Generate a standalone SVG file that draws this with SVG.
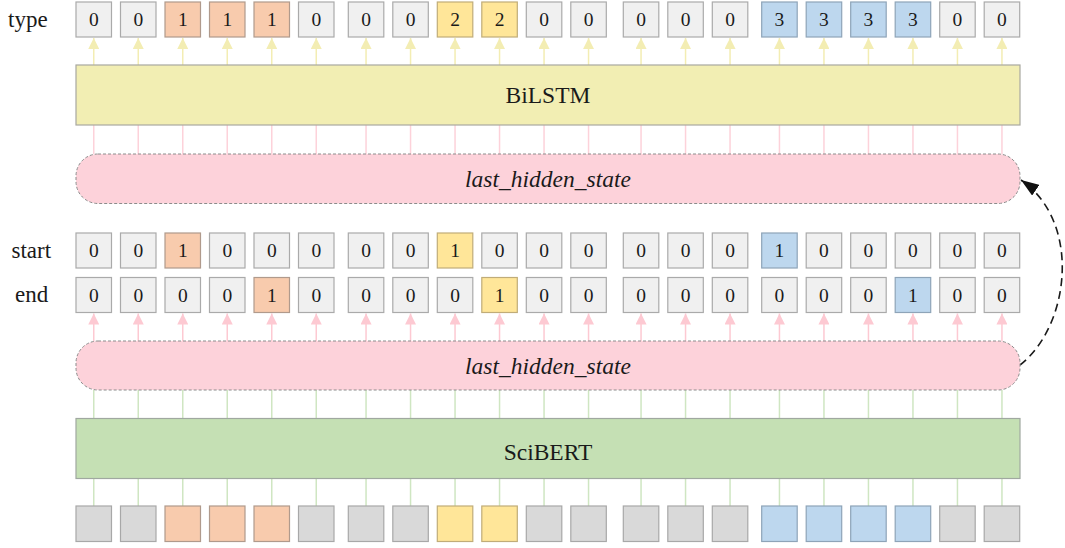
<svg xmlns="http://www.w3.org/2000/svg" width="1065" height="548" viewBox="0 0 1065 548">
<style>
.bx{stroke-width:1.2}
.g{fill:#f0f0f0;stroke:#aaaaaa}
.o{fill:#f8cbad;stroke:#b09a8c}
.y{fill:#ffe699;stroke:#c0ac78}
.b{fill:#bdd7ee;stroke:#8ea4b8}
.d{fill:#d9d9d9;stroke:#a8a8a8}
text{font-family:'Liberation Serif','DejaVu Serif','Noto Serif',serif;fill:#1a1a1a}
.num{font-size:19.5px;text-anchor:middle}
.lbl{font-size:23px}
.ttl{font-size:23.5px;text-anchor:middle}
.it{font-style:italic}
.pill{fill:#fdd2da;stroke:#8c8c8c;stroke-dasharray:3 2;stroke-width:1}
.ya{stroke:#f3edb3;stroke-width:1.5;marker-end:url(#ay)}
.pa{stroke:#fdc9d2;stroke-width:1.5;marker-end:url(#ap)}
.pl{stroke:#fdd2da;stroke-width:1.5}
.gl{stroke:#cfe6c2;stroke-width:1.5}
</style>
<defs>
<marker id="ay" viewBox="0 0 11 11" refX="11" refY="5.5" markerWidth="11" markerHeight="11" markerUnits="userSpaceOnUse" orient="auto"><path d="M0,0 L11,5.5 L0,11 z" fill="#f3edb3"/></marker>
<marker id="ap" viewBox="0 0 11 11" refX="11" refY="5.5" markerWidth="11" markerHeight="11" markerUnits="userSpaceOnUse" orient="auto"><path d="M0,0 L11,5.5 L0,11 z" fill="#fdc9d2"/></marker>
<marker id="ab" viewBox="0 0 18 13" refX="18" refY="6.5" markerWidth="18" markerHeight="13" markerUnits="userSpaceOnUse" orient="auto"><path d="M0,0 L18,6.5 L0,13 z" fill="#111"/></marker>
</defs>
<rect width="1065" height="548" fill="#ffffff"/>

<g id="connectors" fill="none">
<g id="yellow-arrows">
<line class="ya" x1="93.75" y1="65" x2="93.75" y2="38"/>
<line class="ya" x1="138.25" y1="65" x2="138.25" y2="38"/>
<line class="ya" x1="182.75" y1="65" x2="182.75" y2="38"/>
<line class="ya" x1="227.25" y1="65" x2="227.25" y2="38"/>
<line class="ya" x1="271.75" y1="65" x2="271.75" y2="38"/>
<line class="ya" x1="316.25" y1="65" x2="316.25" y2="38"/>
<line class="ya" x1="366.05" y1="65" x2="366.05" y2="38"/>
<line class="ya" x1="410.55" y1="65" x2="410.55" y2="38"/>
<line class="ya" x1="455.05" y1="65" x2="455.05" y2="38"/>
<line class="ya" x1="499.55" y1="65" x2="499.55" y2="38"/>
<line class="ya" x1="544.05" y1="65" x2="544.05" y2="38"/>
<line class="ya" x1="588.55" y1="65" x2="588.55" y2="38"/>
<line class="ya" x1="641.05" y1="65" x2="641.05" y2="38"/>
<line class="ya" x1="685.55" y1="65" x2="685.55" y2="38"/>
<line class="ya" x1="730.05" y1="65" x2="730.05" y2="38"/>
<line class="ya" x1="779.45" y1="65" x2="779.45" y2="38"/>
<line class="ya" x1="823.95" y1="65" x2="823.95" y2="38"/>
<line class="ya" x1="868.45" y1="65" x2="868.45" y2="38"/>
<line class="ya" x1="912.95" y1="65" x2="912.95" y2="38"/>
<line class="ya" x1="957.45" y1="65" x2="957.45" y2="38"/>
<line class="ya" x1="1001.95" y1="65" x2="1001.95" y2="38"/>
</g>
<g id="pink-lines">
<line class="pl" x1="93.75" y1="154" x2="93.75" y2="125"/>
<line class="pl" x1="138.25" y1="154" x2="138.25" y2="125"/>
<line class="pl" x1="182.75" y1="154" x2="182.75" y2="125"/>
<line class="pl" x1="227.25" y1="154" x2="227.25" y2="125"/>
<line class="pl" x1="271.75" y1="154" x2="271.75" y2="125"/>
<line class="pl" x1="316.25" y1="154" x2="316.25" y2="125"/>
<line class="pl" x1="366.05" y1="154" x2="366.05" y2="125"/>
<line class="pl" x1="410.55" y1="154" x2="410.55" y2="125"/>
<line class="pl" x1="455.05" y1="154" x2="455.05" y2="125"/>
<line class="pl" x1="499.55" y1="154" x2="499.55" y2="125"/>
<line class="pl" x1="544.05" y1="154" x2="544.05" y2="125"/>
<line class="pl" x1="588.55" y1="154" x2="588.55" y2="125"/>
<line class="pl" x1="641.05" y1="154" x2="641.05" y2="125"/>
<line class="pl" x1="685.55" y1="154" x2="685.55" y2="125"/>
<line class="pl" x1="730.05" y1="154" x2="730.05" y2="125"/>
<line class="pl" x1="779.45" y1="154" x2="779.45" y2="125"/>
<line class="pl" x1="823.95" y1="154" x2="823.95" y2="125"/>
<line class="pl" x1="868.45" y1="154" x2="868.45" y2="125"/>
<line class="pl" x1="912.95" y1="154" x2="912.95" y2="125"/>
<line class="pl" x1="957.45" y1="154" x2="957.45" y2="125"/>
<line class="pl" x1="1001.95" y1="154" x2="1001.95" y2="125"/>
</g>
<g id="pink-arrows">
<line class="pa" x1="93.75" y1="341" x2="93.75" y2="313.5"/>
<line class="pa" x1="138.25" y1="341" x2="138.25" y2="313.5"/>
<line class="pa" x1="182.75" y1="341" x2="182.75" y2="313.5"/>
<line class="pa" x1="227.25" y1="341" x2="227.25" y2="313.5"/>
<line class="pa" x1="271.75" y1="341" x2="271.75" y2="313.5"/>
<line class="pa" x1="316.25" y1="341" x2="316.25" y2="313.5"/>
<line class="pa" x1="366.05" y1="341" x2="366.05" y2="313.5"/>
<line class="pa" x1="410.55" y1="341" x2="410.55" y2="313.5"/>
<line class="pa" x1="455.05" y1="341" x2="455.05" y2="313.5"/>
<line class="pa" x1="499.55" y1="341" x2="499.55" y2="313.5"/>
<line class="pa" x1="544.05" y1="341" x2="544.05" y2="313.5"/>
<line class="pa" x1="588.55" y1="341" x2="588.55" y2="313.5"/>
<line class="pa" x1="641.05" y1="341" x2="641.05" y2="313.5"/>
<line class="pa" x1="685.55" y1="341" x2="685.55" y2="313.5"/>
<line class="pa" x1="730.05" y1="341" x2="730.05" y2="313.5"/>
<line class="pa" x1="779.45" y1="341" x2="779.45" y2="313.5"/>
<line class="pa" x1="823.95" y1="341" x2="823.95" y2="313.5"/>
<line class="pa" x1="868.45" y1="341" x2="868.45" y2="313.5"/>
<line class="pa" x1="912.95" y1="341" x2="912.95" y2="313.5"/>
<line class="pa" x1="957.45" y1="341" x2="957.45" y2="313.5"/>
<line class="pa" x1="1001.95" y1="341" x2="1001.95" y2="313.5"/>
</g>
<g id="green-lines-upper">
<line class="gl" x1="93.75" y1="390" x2="93.75" y2="418.5"/>
<line class="gl" x1="138.25" y1="390" x2="138.25" y2="418.5"/>
<line class="gl" x1="182.75" y1="390" x2="182.75" y2="418.5"/>
<line class="gl" x1="227.25" y1="390" x2="227.25" y2="418.5"/>
<line class="gl" x1="271.75" y1="390" x2="271.75" y2="418.5"/>
<line class="gl" x1="316.25" y1="390" x2="316.25" y2="418.5"/>
<line class="gl" x1="366.05" y1="390" x2="366.05" y2="418.5"/>
<line class="gl" x1="410.55" y1="390" x2="410.55" y2="418.5"/>
<line class="gl" x1="455.05" y1="390" x2="455.05" y2="418.5"/>
<line class="gl" x1="499.55" y1="390" x2="499.55" y2="418.5"/>
<line class="gl" x1="544.05" y1="390" x2="544.05" y2="418.5"/>
<line class="gl" x1="588.55" y1="390" x2="588.55" y2="418.5"/>
<line class="gl" x1="641.05" y1="390" x2="641.05" y2="418.5"/>
<line class="gl" x1="685.55" y1="390" x2="685.55" y2="418.5"/>
<line class="gl" x1="730.05" y1="390" x2="730.05" y2="418.5"/>
<line class="gl" x1="779.45" y1="390" x2="779.45" y2="418.5"/>
<line class="gl" x1="823.95" y1="390" x2="823.95" y2="418.5"/>
<line class="gl" x1="868.45" y1="390" x2="868.45" y2="418.5"/>
<line class="gl" x1="912.95" y1="390" x2="912.95" y2="418.5"/>
<line class="gl" x1="957.45" y1="390" x2="957.45" y2="418.5"/>
<line class="gl" x1="1001.95" y1="390" x2="1001.95" y2="418.5"/>
</g>
<g id="green-lines-lower">
<line class="gl" x1="93.75" y1="478.5" x2="93.75" y2="506"/>
<line class="gl" x1="138.25" y1="478.5" x2="138.25" y2="506"/>
<line class="gl" x1="182.75" y1="478.5" x2="182.75" y2="506"/>
<line class="gl" x1="227.25" y1="478.5" x2="227.25" y2="506"/>
<line class="gl" x1="271.75" y1="478.5" x2="271.75" y2="506"/>
<line class="gl" x1="316.25" y1="478.5" x2="316.25" y2="506"/>
<line class="gl" x1="366.05" y1="478.5" x2="366.05" y2="506"/>
<line class="gl" x1="410.55" y1="478.5" x2="410.55" y2="506"/>
<line class="gl" x1="455.05" y1="478.5" x2="455.05" y2="506"/>
<line class="gl" x1="499.55" y1="478.5" x2="499.55" y2="506"/>
<line class="gl" x1="544.05" y1="478.5" x2="544.05" y2="506"/>
<line class="gl" x1="588.55" y1="478.5" x2="588.55" y2="506"/>
<line class="gl" x1="641.05" y1="478.5" x2="641.05" y2="506"/>
<line class="gl" x1="685.55" y1="478.5" x2="685.55" y2="506"/>
<line class="gl" x1="730.05" y1="478.5" x2="730.05" y2="506"/>
<line class="gl" x1="779.45" y1="478.5" x2="779.45" y2="506"/>
<line class="gl" x1="823.95" y1="478.5" x2="823.95" y2="506"/>
<line class="gl" x1="868.45" y1="478.5" x2="868.45" y2="506"/>
<line class="gl" x1="912.95" y1="478.5" x2="912.95" y2="506"/>
<line class="gl" x1="957.45" y1="478.5" x2="957.45" y2="506"/>
<line class="gl" x1="1001.95" y1="478.5" x2="1001.95" y2="506"/>
</g>
<path id="feedback-arrow" d="M1020,365 C1070,326 1082,222 1021,180" stroke="#1a1a1a" stroke-width="1.6" stroke-dasharray="8 5" marker-end="url(#ab)"/>
</g>

<g id="bilstm"><rect x="76" y="65" width="944" height="60" fill="#f2eeb3" stroke="#a8a8a0" stroke-width="1.2"/><text class="ttl" x="548" y="103">BiLSTM</text></g>
<g id="hidden-top"><rect class="pill" x="76" y="154" width="944" height="49.5" rx="22" ry="22"/><text class="ttl it" x="548" y="186.5">last_hidden_state</text></g>
<g id="hidden-bottom"><rect class="pill" x="76" y="341" width="944" height="49" rx="22" ry="22"/><text class="ttl it" x="548" y="373.5">last_hidden_state</text></g>
<g id="scibert"><rect x="76" y="418.5" width="944" height="60" fill="#c5e0b4" stroke="#a0a8a0" stroke-width="1.2"/><text class="ttl" x="548" y="460">SciBERT</text></g>

<g id="labels">
<text class="lbl" x="8" y="26.5">type</text>
<text class="lbl" x="11.5" y="257.5">start</text>
<text class="lbl" x="15" y="302">end</text>
</g>

<g id="type-row">
<g id="type-0"><rect class="bx g" x="76" y="2" width="35.5" height="35"/><text class="num" x="93.75" y="26">0</text></g>
<g id="type-1"><rect class="bx g" x="120.5" y="2" width="35.5" height="35"/><text class="num" x="138.25" y="26">0</text></g>
<g id="type-2"><rect class="bx o" x="165" y="2" width="35.5" height="35"/><text class="num" x="182.75" y="26">1</text></g>
<g id="type-3"><rect class="bx o" x="209.5" y="2" width="35.5" height="35"/><text class="num" x="227.25" y="26">1</text></g>
<g id="type-4"><rect class="bx o" x="254" y="2" width="35.5" height="35"/><text class="num" x="271.75" y="26">1</text></g>
<g id="type-5"><rect class="bx g" x="298.5" y="2" width="35.5" height="35"/><text class="num" x="316.25" y="26">0</text></g>
<g id="type-6"><rect class="bx g" x="348.3" y="2" width="35.5" height="35"/><text class="num" x="366.05" y="26">0</text></g>
<g id="type-7"><rect class="bx g" x="392.8" y="2" width="35.5" height="35"/><text class="num" x="410.55" y="26">0</text></g>
<g id="type-8"><rect class="bx y" x="437.3" y="2" width="35.5" height="35"/><text class="num" x="455.05" y="26">2</text></g>
<g id="type-9"><rect class="bx y" x="481.8" y="2" width="35.5" height="35"/><text class="num" x="499.55" y="26">2</text></g>
<g id="type-10"><rect class="bx g" x="526.3" y="2" width="35.5" height="35"/><text class="num" x="544.05" y="26">0</text></g>
<g id="type-11"><rect class="bx g" x="570.8" y="2" width="35.5" height="35"/><text class="num" x="588.55" y="26">0</text></g>
<g id="type-12"><rect class="bx g" x="623.3" y="2" width="35.5" height="35"/><text class="num" x="641.05" y="26">0</text></g>
<g id="type-13"><rect class="bx g" x="667.8" y="2" width="35.5" height="35"/><text class="num" x="685.55" y="26">0</text></g>
<g id="type-14"><rect class="bx g" x="712.3" y="2" width="35.5" height="35"/><text class="num" x="730.05" y="26">0</text></g>
<g id="type-15"><rect class="bx b" x="761.7" y="2" width="35.5" height="35"/><text class="num" x="779.45" y="26">3</text></g>
<g id="type-16"><rect class="bx b" x="806.2" y="2" width="35.5" height="35"/><text class="num" x="823.95" y="26">3</text></g>
<g id="type-17"><rect class="bx b" x="850.7" y="2" width="35.5" height="35"/><text class="num" x="868.45" y="26">3</text></g>
<g id="type-18"><rect class="bx b" x="895.2" y="2" width="35.5" height="35"/><text class="num" x="912.95" y="26">3</text></g>
<g id="type-19"><rect class="bx g" x="939.7" y="2" width="35.5" height="35"/><text class="num" x="957.45" y="26">0</text></g>
<g id="type-20"><rect class="bx g" x="984.2" y="2" width="35.5" height="35"/><text class="num" x="1001.95" y="26">0</text></g>
</g>

<g id="start-row">
<g id="start-0"><rect class="bx g" x="76" y="233" width="35.5" height="35"/><text class="num" x="93.75" y="257">0</text></g>
<g id="start-1"><rect class="bx g" x="120.5" y="233" width="35.5" height="35"/><text class="num" x="138.25" y="257">0</text></g>
<g id="start-2"><rect class="bx o" x="165" y="233" width="35.5" height="35"/><text class="num" x="182.75" y="257">1</text></g>
<g id="start-3"><rect class="bx g" x="209.5" y="233" width="35.5" height="35"/><text class="num" x="227.25" y="257">0</text></g>
<g id="start-4"><rect class="bx g" x="254" y="233" width="35.5" height="35"/><text class="num" x="271.75" y="257">0</text></g>
<g id="start-5"><rect class="bx g" x="298.5" y="233" width="35.5" height="35"/><text class="num" x="316.25" y="257">0</text></g>
<g id="start-6"><rect class="bx g" x="348.3" y="233" width="35.5" height="35"/><text class="num" x="366.05" y="257">0</text></g>
<g id="start-7"><rect class="bx g" x="392.8" y="233" width="35.5" height="35"/><text class="num" x="410.55" y="257">0</text></g>
<g id="start-8"><rect class="bx y" x="437.3" y="233" width="35.5" height="35"/><text class="num" x="455.05" y="257">1</text></g>
<g id="start-9"><rect class="bx g" x="481.8" y="233" width="35.5" height="35"/><text class="num" x="499.55" y="257">0</text></g>
<g id="start-10"><rect class="bx g" x="526.3" y="233" width="35.5" height="35"/><text class="num" x="544.05" y="257">0</text></g>
<g id="start-11"><rect class="bx g" x="570.8" y="233" width="35.5" height="35"/><text class="num" x="588.55" y="257">0</text></g>
<g id="start-12"><rect class="bx g" x="623.3" y="233" width="35.5" height="35"/><text class="num" x="641.05" y="257">0</text></g>
<g id="start-13"><rect class="bx g" x="667.8" y="233" width="35.5" height="35"/><text class="num" x="685.55" y="257">0</text></g>
<g id="start-14"><rect class="bx g" x="712.3" y="233" width="35.5" height="35"/><text class="num" x="730.05" y="257">0</text></g>
<g id="start-15"><rect class="bx b" x="761.7" y="233" width="35.5" height="35"/><text class="num" x="779.45" y="257">1</text></g>
<g id="start-16"><rect class="bx g" x="806.2" y="233" width="35.5" height="35"/><text class="num" x="823.95" y="257">0</text></g>
<g id="start-17"><rect class="bx g" x="850.7" y="233" width="35.5" height="35"/><text class="num" x="868.45" y="257">0</text></g>
<g id="start-18"><rect class="bx g" x="895.2" y="233" width="35.5" height="35"/><text class="num" x="912.95" y="257">0</text></g>
<g id="start-19"><rect class="bx g" x="939.7" y="233" width="35.5" height="35"/><text class="num" x="957.45" y="257">0</text></g>
<g id="start-20"><rect class="bx g" x="984.2" y="233" width="35.5" height="35"/><text class="num" x="1001.95" y="257">0</text></g>
</g>

<g id="end-row">
<g id="end-0"><rect class="bx g" x="76" y="277.5" width="35.5" height="35"/><text class="num" x="93.75" y="301.5">0</text></g>
<g id="end-1"><rect class="bx g" x="120.5" y="277.5" width="35.5" height="35"/><text class="num" x="138.25" y="301.5">0</text></g>
<g id="end-2"><rect class="bx g" x="165" y="277.5" width="35.5" height="35"/><text class="num" x="182.75" y="301.5">0</text></g>
<g id="end-3"><rect class="bx g" x="209.5" y="277.5" width="35.5" height="35"/><text class="num" x="227.25" y="301.5">0</text></g>
<g id="end-4"><rect class="bx o" x="254" y="277.5" width="35.5" height="35"/><text class="num" x="271.75" y="301.5">1</text></g>
<g id="end-5"><rect class="bx g" x="298.5" y="277.5" width="35.5" height="35"/><text class="num" x="316.25" y="301.5">0</text></g>
<g id="end-6"><rect class="bx g" x="348.3" y="277.5" width="35.5" height="35"/><text class="num" x="366.05" y="301.5">0</text></g>
<g id="end-7"><rect class="bx g" x="392.8" y="277.5" width="35.5" height="35"/><text class="num" x="410.55" y="301.5">0</text></g>
<g id="end-8"><rect class="bx g" x="437.3" y="277.5" width="35.5" height="35"/><text class="num" x="455.05" y="301.5">0</text></g>
<g id="end-9"><rect class="bx y" x="481.8" y="277.5" width="35.5" height="35"/><text class="num" x="499.55" y="301.5">1</text></g>
<g id="end-10"><rect class="bx g" x="526.3" y="277.5" width="35.5" height="35"/><text class="num" x="544.05" y="301.5">0</text></g>
<g id="end-11"><rect class="bx g" x="570.8" y="277.5" width="35.5" height="35"/><text class="num" x="588.55" y="301.5">0</text></g>
<g id="end-12"><rect class="bx g" x="623.3" y="277.5" width="35.5" height="35"/><text class="num" x="641.05" y="301.5">0</text></g>
<g id="end-13"><rect class="bx g" x="667.8" y="277.5" width="35.5" height="35"/><text class="num" x="685.55" y="301.5">0</text></g>
<g id="end-14"><rect class="bx g" x="712.3" y="277.5" width="35.5" height="35"/><text class="num" x="730.05" y="301.5">0</text></g>
<g id="end-15"><rect class="bx g" x="761.7" y="277.5" width="35.5" height="35"/><text class="num" x="779.45" y="301.5">0</text></g>
<g id="end-16"><rect class="bx g" x="806.2" y="277.5" width="35.5" height="35"/><text class="num" x="823.95" y="301.5">0</text></g>
<g id="end-17"><rect class="bx g" x="850.7" y="277.5" width="35.5" height="35"/><text class="num" x="868.45" y="301.5">0</text></g>
<g id="end-18"><rect class="bx b" x="895.2" y="277.5" width="35.5" height="35"/><text class="num" x="912.95" y="301.5">1</text></g>
<g id="end-19"><rect class="bx g" x="939.7" y="277.5" width="35.5" height="35"/><text class="num" x="957.45" y="301.5">0</text></g>
<g id="end-20"><rect class="bx g" x="984.2" y="277.5" width="35.5" height="35"/><text class="num" x="1001.95" y="301.5">0</text></g>
</g>

<g id="token-row">
<g id="tok-0"><rect class="bx d" x="76" y="506" width="35.5" height="35.5"/></g>
<g id="tok-1"><rect class="bx d" x="120.5" y="506" width="35.5" height="35.5"/></g>
<g id="tok-2"><rect class="bx o" x="165" y="506" width="35.5" height="35.5"/></g>
<g id="tok-3"><rect class="bx o" x="209.5" y="506" width="35.5" height="35.5"/></g>
<g id="tok-4"><rect class="bx o" x="254" y="506" width="35.5" height="35.5"/></g>
<g id="tok-5"><rect class="bx d" x="298.5" y="506" width="35.5" height="35.5"/></g>
<g id="tok-6"><rect class="bx d" x="348.3" y="506" width="35.5" height="35.5"/></g>
<g id="tok-7"><rect class="bx d" x="392.8" y="506" width="35.5" height="35.5"/></g>
<g id="tok-8"><rect class="bx y" x="437.3" y="506" width="35.5" height="35.5"/></g>
<g id="tok-9"><rect class="bx y" x="481.8" y="506" width="35.5" height="35.5"/></g>
<g id="tok-10"><rect class="bx d" x="526.3" y="506" width="35.5" height="35.5"/></g>
<g id="tok-11"><rect class="bx d" x="570.8" y="506" width="35.5" height="35.5"/></g>
<g id="tok-12"><rect class="bx d" x="623.3" y="506" width="35.5" height="35.5"/></g>
<g id="tok-13"><rect class="bx d" x="667.8" y="506" width="35.5" height="35.5"/></g>
<g id="tok-14"><rect class="bx d" x="712.3" y="506" width="35.5" height="35.5"/></g>
<g id="tok-15"><rect class="bx b" x="761.7" y="506" width="35.5" height="35.5"/></g>
<g id="tok-16"><rect class="bx b" x="806.2" y="506" width="35.5" height="35.5"/></g>
<g id="tok-17"><rect class="bx b" x="850.7" y="506" width="35.5" height="35.5"/></g>
<g id="tok-18"><rect class="bx b" x="895.2" y="506" width="35.5" height="35.5"/></g>
<g id="tok-19"><rect class="bx d" x="939.7" y="506" width="35.5" height="35.5"/></g>
<g id="tok-20"><rect class="bx d" x="984.2" y="506" width="35.5" height="35.5"/></g>
</g>
</svg>
